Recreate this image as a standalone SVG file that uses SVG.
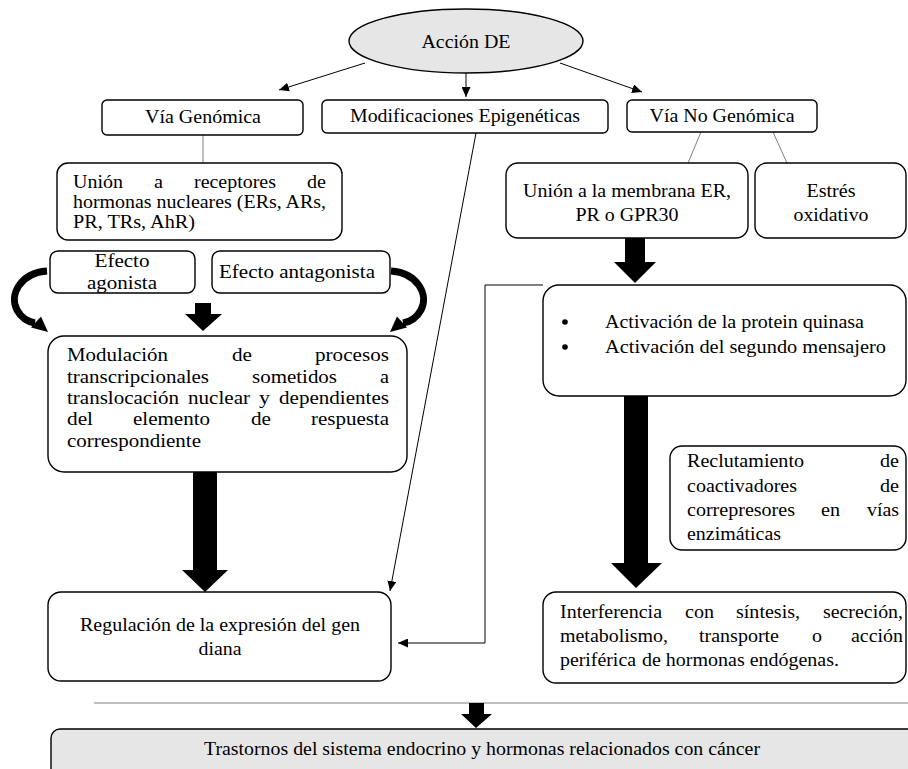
<svg xmlns="http://www.w3.org/2000/svg" width="908" height="769" viewBox="0 0 908 769" font-family="Liberation Serif, Times New Roman, Times, Tinos, Nimbus Roman, FreeSerif, Noto Serif, DejaVu Serif, serif">
<style>
.box{fill:#fff;stroke:#000;stroke-width:1.4}
.gray{fill:#e7e6e6;stroke:#000;stroke-width:1.4}
text{font-size:18.5px;fill:#000}
.t21{font-size:19px}
.c{text-anchor:middle}
.e{text-anchor:end}
.thin{fill:none;stroke:#000;stroke-width:1}
.gl{fill:none;stroke:#7f7f7f;stroke-width:1}
.blk{fill:#000;stroke:none}
.curve{fill:none;stroke:#000;stroke-width:7}
</style>
<defs>
<marker id="ah" markerUnits="userSpaceOnUse" markerWidth="11" markerHeight="9" refX="10" refY="4.5" orient="auto">
<path d="M0,0 L10,4.5 L0,9 z" fill="#000"/>
</marker>
</defs>

<g id="connectors">
<line class="thin" x1="365" y1="63" x2="279" y2="90" marker-end="url(#ah)"/>
<line class="thin" x1="466" y1="73" x2="466" y2="97" marker-end="url(#ah)"/>
<line class="thin" x1="560" y1="63" x2="642" y2="92" marker-end="url(#ah)"/>
<line class="gl" x1="203" y1="135" x2="203" y2="163"/>
<line class="gl" x1="701" y1="132" x2="688" y2="163"/>
<line class="gl" x1="773" y1="132" x2="787" y2="163"/>
<line class="thin" x1="476" y1="133" x2="390" y2="591" marker-end="url(#ah)"/>
<path class="thin" d="M543 285 H485 V643 H398" marker-end="url(#ah)"/>
<line class="gl" x1="94" y1="703" x2="908" y2="703"/>
<path class="blk" d="M195 303 H211 V314 H222 L203 331 L185 314 H195 Z"/>
<path class="blk" d="M625 238 H645 V262 H656 L635 283 L614 262 H625 Z"/>
<path class="blk" d="M193 472 H217 V570 H228 L205 592 L182 570 H193 Z"/>
<path class="blk" d="M624 396 H648 V563 H662 L636 588 L611 563 H624 Z"/>
<path class="blk" d="M469 703 H484 V714 H492 L476 728 L461 714 H469 Z"/>
<path class="curve" d="M47 271 C20 273 9 295 17 310 C22 319 29 322 35 323"/>
<path class="blk" d="M31 327.5 L41 316.5 L48 332 Z"/>
<path class="curve" d="M391 271 C418 273 429 295 421 310 C416 319 409 322 403 323"/>
<path class="blk" d="M407 327.5 L397 316.5 L390 332 Z"/>
</g>

<g id="accion">
<ellipse class="gray" cx="466" cy="41" rx="117" ry="32"/>
<text class="c" x="466" y="48" textLength="89" lengthAdjust="spacingAndGlyphs">Acción DE</text>
</g>

<g id="via-genomica">
<rect class="box" x="102" y="100" width="201" height="35" rx="5"/>
<text class="c" x="203" y="123" textLength="116" lengthAdjust="spacingAndGlyphs">Vía Genómica</text>
</g>

<g id="modificaciones">
<rect class="box" x="322" y="100" width="286" height="33" rx="5"/>
<text class="c" x="465" y="122" textLength="230" lengthAdjust="spacingAndGlyphs">Modificaciones Epigenéticas</text>
</g>

<g id="via-no-genomica">
<rect class="box" x="627" y="100" width="190" height="32" rx="5"/>
<text class="c" x="722" y="122" textLength="145" lengthAdjust="spacingAndGlyphs">Vía No Genómica</text>
</g>

<g id="union-receptores">
<rect class="box" x="57" y="163" width="285" height="77" rx="11"/>
<text x="73" y="188" textLength="50" lengthAdjust="spacingAndGlyphs">Unión</text>
<text x="154" y="188" textLength="9" lengthAdjust="spacingAndGlyphs">a</text>
<text x="194" y="188" textLength="82" lengthAdjust="spacingAndGlyphs">receptores</text>
<text x="307" y="188" textLength="19" lengthAdjust="spacingAndGlyphs">de</text>
<text x="73" y="208" textLength="253" lengthAdjust="spacingAndGlyphs">hormonas nucleares (ERs, ARs,</text>
<text x="73" y="228" textLength="122" lengthAdjust="spacingAndGlyphs">PR, TRs, AhR)</text>
</g>

<g id="union-membrana">
<rect class="box" x="506" y="163" width="242" height="75" rx="12"/>
<text class="c" x="627" y="197" textLength="208" lengthAdjust="spacingAndGlyphs">Unión a la membrana ER,</text>
<text class="c" x="627" y="221" textLength="103" lengthAdjust="spacingAndGlyphs">PR o GPR30</text>
</g>

<g id="estres">
<rect class="box" x="755" y="163" width="151" height="75" rx="12"/>
<text class="c" x="831" y="197" textLength="49" lengthAdjust="spacingAndGlyphs">Estrés</text>
<text class="c" x="831" y="221" textLength="75" lengthAdjust="spacingAndGlyphs">oxidativo</text>
</g>

<g id="agonista">
<rect class="box" x="50" y="251" width="145" height="42" rx="8"/>
<text class="t21 c" x="122" y="267" textLength="55" lengthAdjust="spacingAndGlyphs">Efecto</text>
<text class="t21 c" x="122" y="289" textLength="70" lengthAdjust="spacingAndGlyphs">agonista</text>
</g>

<g id="antagonista">
<rect class="box" x="212" y="251" width="178" height="42" rx="8"/>
<text class="t21 c" x="297" y="278" textLength="156" lengthAdjust="spacingAndGlyphs">Efecto antagonista</text>
</g>

<g id="modulacion">
<rect class="box" x="48" y="336" width="359" height="136" rx="16"/>
<text class="t21" x="67" y="361" textLength="101" lengthAdjust="spacingAndGlyphs">Modulación</text>
<text class="t21" x="232" y="361" textLength="20" lengthAdjust="spacingAndGlyphs">de</text>
<text class="t21" x="315" y="361" textLength="74" lengthAdjust="spacingAndGlyphs">procesos</text>
<text class="t21" x="67" y="383" textLength="142" lengthAdjust="spacingAndGlyphs">transcripcionales</text>
<text class="t21" x="252" y="383" textLength="85" lengthAdjust="spacingAndGlyphs">sometidos</text>
<text class="t21" x="380" y="383" textLength="9" lengthAdjust="spacingAndGlyphs">a</text>
<text class="t21" x="67" y="404" textLength="112" lengthAdjust="spacingAndGlyphs">translocación</text>
<text class="t21" x="188" y="404" textLength="62" lengthAdjust="spacingAndGlyphs">nuclear</text>
<text class="t21" x="259" y="404" textLength="11" lengthAdjust="spacingAndGlyphs">y</text>
<text class="t21" x="279" y="404" textLength="110" lengthAdjust="spacingAndGlyphs">dependientes</text>
<text class="t21" x="67" y="425" textLength="26" lengthAdjust="spacingAndGlyphs">del</text>
<text class="t21" x="133" y="425" textLength="77" lengthAdjust="spacingAndGlyphs">elemento</text>
<text class="t21" x="251" y="425" textLength="20" lengthAdjust="spacingAndGlyphs">de</text>
<text class="t21" x="311" y="425" textLength="78" lengthAdjust="spacingAndGlyphs">respuesta</text>
<text class="t21" x="67" y="447" textLength="134" lengthAdjust="spacingAndGlyphs">correspondiente</text>
</g>

<g id="activacion">
<rect class="box" x="543" y="285" width="363" height="111" rx="16"/>
<circle cx="565" cy="322" r="2.8" fill="#000"/>
<circle cx="565" cy="347" r="2.8" fill="#000"/>
<text x="605" y="328" textLength="259" lengthAdjust="spacingAndGlyphs">Activación de la protein quinasa</text>
<text x="605" y="353" textLength="281" lengthAdjust="spacingAndGlyphs">Activación del segundo mensajero</text>
</g>

<g id="reclutamiento">
<rect class="box" x="670" y="446" width="236" height="104" rx="12"/>
<text x="687" y="467" textLength="117" lengthAdjust="spacingAndGlyphs">Reclutamiento</text>
<text x="880" y="467" textLength="19" lengthAdjust="spacingAndGlyphs">de</text>
<text x="687" y="492" textLength="110" lengthAdjust="spacingAndGlyphs">coactivadores</text>
<text x="880" y="492" textLength="19" lengthAdjust="spacingAndGlyphs">de</text>
<text x="687" y="516" textLength="108" lengthAdjust="spacingAndGlyphs">correpresores</text>
<text x="821" y="516" textLength="19" lengthAdjust="spacingAndGlyphs">en</text>
<text x="867" y="516" textLength="32" lengthAdjust="spacingAndGlyphs">vías</text>
<text x="687" y="540" textLength="94" lengthAdjust="spacingAndGlyphs">enzimáticas</text>
</g>

<g id="regulacion">
<rect class="box" x="48" y="592" width="343" height="89" rx="13"/>
<text class="c" x="220" y="631" textLength="280" lengthAdjust="spacingAndGlyphs">Regulación de la expresión del gen</text>
<text class="c" x="220" y="655" textLength="43" lengthAdjust="spacingAndGlyphs">diana</text>
</g>

<g id="interferencia">
<rect class="box" x="543" y="592" width="363" height="91" rx="13"/>
<text x="560" y="618" textLength="102" lengthAdjust="spacingAndGlyphs">Interferencia</text>
<text x="685" y="618" textLength="29" lengthAdjust="spacingAndGlyphs">con</text>
<text x="736" y="618" textLength="64" lengthAdjust="spacingAndGlyphs">síntesis,</text>
<text x="823" y="618" textLength="80" lengthAdjust="spacingAndGlyphs">secreción,</text>
<text x="560" y="642" textLength="108" lengthAdjust="spacingAndGlyphs">metabolismo,</text>
<text x="699" y="642" textLength="80" lengthAdjust="spacingAndGlyphs">transporte</text>
<text x="812" y="642" textLength="10" lengthAdjust="spacingAndGlyphs">o</text>
<text x="851" y="642" textLength="52" lengthAdjust="spacingAndGlyphs">acción</text>
<text x="560" y="666" textLength="76" lengthAdjust="spacingAndGlyphs">periférica</text>
<text x="642" y="666" textLength="197" lengthAdjust="spacingAndGlyphs">de hormonas endógenas.</text>
</g>

<g id="trastornos">
<rect class="gray" x="51" y="729" width="870" height="60" rx="9"/>
<text class="c" x="482" y="755" textLength="556" lengthAdjust="spacingAndGlyphs">Trastornos del sistema endocrino y hormonas relacionados con cáncer</text>
</g>
</svg>
